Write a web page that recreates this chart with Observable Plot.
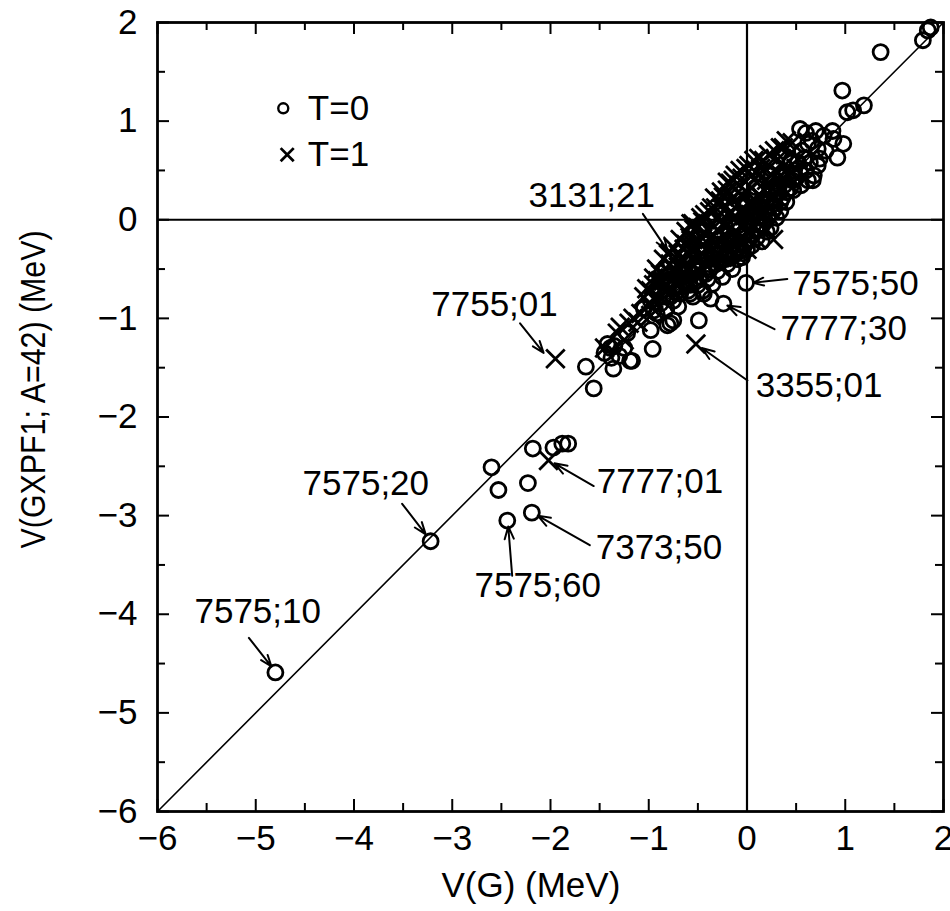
<!DOCTYPE html>
<html>
<head>
<meta charset="utf-8">
<script src="https://cdn.jsdelivr.net/npm/d3@7"></script>
<script src="https://cdn.jsdelivr.net/npm/@observablehq/plot@0.6"></script>
<style>
  html, body { margin: 0; padding: 0; background: white; }
  svg { display: block; }
</style>
</head>
<body>
<div id="chart"></div>
<script>
// ---- data ----
const xTicks = [-6, -5, -4, -3, -2, -1, 0, 1, 2];
const yTicks = [-6, -5, -4, -3, -2, -1, 0, 1, 2];
const minorTicks = [-5.5, -4.5, -3.5, -2.5, -1.5, -0.5, 0.5, 1.5];
const diagonal = [[-6, -6], [2, 2]];

// T=0 states (circles): [V(G), V(GXPF1)]
const t0Points = [
  [-4.80, -4.59], [-3.22, -3.26], [-2.44, -3.05], [-2.19, -2.97], [-2.60, -2.51], [-2.53, -2.74],
  [-2.23, -2.67], [-2.18, -2.32], [-1.97, -2.31], [-1.88, -2.27], [-1.82, -2.27],
  [-1.64, -1.49], [-1.56, -1.71], [-1.42, -1.26], [-1.36, -1.51], [-1.17, -1.43], [-0.96, -1.31],
  [-1.30, -1.38], [-1.38, -1.40], [-1.25, -1.30], [-1.45, -1.35], [-1.35, -1.28], [-1.22, -1.15],
  [-0.98, -1.12], [-0.78, -1.05], [-0.49, -1.02], [-0.24, -0.85], [-0.37, -0.80], [-0.01, -0.64],
  [-0.81, -1.07], [-0.75, -1.02], [-1.19, -1.43], [-1.39, -1.30],
  [-1.05, -0.90], [-0.95, -0.92], [-0.88, -0.85], [-0.82, -0.90], [-0.75, -0.82], [-0.70, -0.88],
  [-0.68, -0.75], [-0.60, -0.72], [-0.58, -0.75], [-0.44, -0.75], [-0.55, -0.78], [-0.50, -0.66],
  [-0.45, -0.72], [-0.40, -0.60], [-0.35, -0.65], [-0.30, -0.52], [-0.25, -0.58], [-0.20, -0.45],
  [-0.15, -0.50], [-0.10, -0.40], [-0.05, -0.38], [-0.04, -0.34], [0.00, -0.30], [0.05, -0.26],
  [0.10, -0.18], [0.15, -0.22], [0.20, -0.12], [0.24, -0.08], [0.30, 0.02], [0.34, 0.09],
  [0.40, 0.18], [0.47, 0.30], [0.55, 0.35], [0.62, 0.40], [0.68, 0.45], [0.72, 0.55],
  [-0.90, -0.70], [-0.88, -0.72], [-0.80, -0.62], [-0.78, -0.43], [-0.70, -0.58], [-0.62, -0.45],
  [-0.55, -0.55], [-0.48, -0.42], [-0.40, -0.40], [-0.35, -0.30], [-0.28, -0.35], [-0.22, -0.25],
  [-0.18, -0.32], [-0.12, -0.20], [-0.08, -0.28], [-0.02, -0.15], [0.02, -0.05], [0.08, 0.05],
  [0.12, -0.05], [0.18, 0.10], [0.22, 0.05], [0.28, 0.20], [0.32, 0.28], [0.38, 0.35],
  [0.42, 0.42], [0.48, 0.50], [0.52, 0.58], [0.58, 0.62],
  [-0.65, -0.38], [-0.45, -0.10], [-0.25, 0.05], [-0.05, 0.20], [0.09, 0.33], [0.25, 0.45],
  [0.54, 0.92], [0.62, 0.77], [0.72, 0.72], [0.87, 0.90], [0.88, 0.82], [0.98, 0.77],
  [0.92, 0.63], [0.67, 0.40],
  [0.97, 1.31], [1.02, 1.09], [1.08, 1.11], [1.19, 1.16], [1.36, 1.70], [1.79, 1.82],
  [1.84, 1.92], [1.87, 1.95],
  [-0.98, -0.82], [-0.92, -0.95], [-0.85, -0.78], [-0.76, -0.70], [-0.66, -0.68], [-0.52, -0.62],
  [-0.42, -0.55], [-0.32, -0.45], [-0.22, -0.40], [-0.12, -0.35], [-0.02, -0.25], [0.06, -0.15],
  [0.16, -0.05], [0.26, 0.08], [0.36, 0.22], [0.44, 0.32], [0.50, 0.42], [0.60, 0.50],
  [0.64, 0.58], [0.56, 0.70], [0.45, 0.60], [0.35, 0.45], [0.24, 0.30], [0.14, 0.18],
  [0.04, 0.08], [-0.08, -0.05], [-0.18, -0.15], [-0.30, -0.25], [-0.42, -0.32], [-0.52, -0.45],
  [-0.64, -0.55], [-0.74, -0.68], [0.74, 0.62], [0.80, 0.70], [0.78, 0.85], [0.70, 0.90],
  [0.66, 0.80], [0.60, 0.88],
  [-0.86, -0.62], [-0.78, -0.78], [-0.72, -0.74], [-0.64, -0.62], [-0.58, -0.66], [-0.48, -0.58],
  [-0.38, -0.50], [-0.28, -0.42], [-0.18, -0.38], [-0.08, -0.32], [0.02, -0.20], [0.10, -0.10],
  [0.18, 0.00], [0.28, 0.12], [0.34, 0.18], [0.40, 0.28], [0.46, 0.40], [0.54, 0.48],
  [-0.60, -0.50], [-0.50, -0.52], [-0.40, -0.48], [-0.30, -0.40], [-0.20, -0.35], [-0.10, -0.25],
  [0.00, -0.12], [0.10, 0.02], [0.20, 0.20], [0.30, 0.32]
];

// T=1 states (crosses): [V(G), V(GXPF1)]
const t1Points = [
  [-1.95, -1.41], [-2.02, -2.44], [-0.52, -1.26],
  [-1.32, -1.15], [-1.16, -1.00], [-0.98, -0.97], [-1.29, -1.09], [-1.11, -1.04], [-1.20, -1.05],
  [-1.08, -0.95], [-1.45, -1.30], [-1.25, -1.22],
  [-1.00, -0.85], [-0.95, -0.80], [-0.98, -0.72], [-0.91, -0.62], [-0.95, -0.59], [-0.90, -0.78],
  [-0.85, -0.62], [-0.88, -0.62], [-0.80, -0.70], [-0.78, -0.55], [-0.72, -0.65], [-0.78, -0.33],
  [-0.78, -0.45], [-0.72, -0.55], [-0.66, -0.62], [-0.62, -0.50],
  [-0.70, -0.35], [-0.65, -0.42], [-0.58, -0.50], [-0.52, -0.40], [-0.62, -0.25], [-0.55, -0.32],
  [-0.50, -0.38], [-0.42, -0.30],
  [-0.55, -0.04], [-0.54, -0.10], [-0.52, -0.20], [-0.45, -0.25], [-0.38, -0.32], [-0.32, -0.22],
  [-0.45, -0.02], [-0.40, -0.10], [-0.34, -0.16], [-0.28, -0.22], [-0.20, -0.28],
  [-0.38, 0.08], [-0.32, 0.12], [-0.30, 0.02], [-0.22, -0.06], [-0.15, -0.15], [-0.10, -0.22],
  [-0.28, 0.18], [-0.24, 0.10], [-0.18, 0.05], [-0.10, -0.02], [-0.05, -0.08], [0.02, -0.12],
  [-0.24, 0.23], [-0.20, 0.30], [-0.15, 0.22], [-0.10, 0.15], [-0.04, 0.12], [0.04, 0.05], [0.10, 0.00],
  [-0.14, 0.40], [-0.08, 0.35], [0.00, 0.28], [0.08, 0.20], [0.15, 0.12],
  [-0.01, 0.52], [0.04, 0.44], [0.10, 0.38], [0.18, 0.30], [0.25, 0.22],
  [0.12, 0.62], [0.18, 0.52], [0.24, 0.46], [0.30, 0.40],
  [0.34, 0.73], [0.30, 0.60], [0.38, 0.55], [0.45, 0.68], [0.52, 0.62],
  [0.10, -0.20], [0.27, -0.20], [0.20, -0.10], [0.00, -0.30],
  [-0.57, -0.04], [-0.47, 0.02], [-0.27, 0.19], [-0.17, 0.37], [-0.07, 0.50], [0.17, 0.60], [0.37, 0.73],
  [-0.85, -0.40], [-0.80, -0.35], [-0.75, -0.28], [-0.68, -0.20], [-0.62, -0.12], [-0.58, -0.18],
  [-0.50, -0.08], [-0.43, 0.05], [-0.36, 0.12], [-0.33, 0.22], [-0.26, 0.28], [-0.20, 0.38],
  [-0.12, 0.45], [-0.05, 0.42], [0.02, 0.55], [0.07, 0.60], [0.14, 0.52], [0.22, 0.66],
  [0.28, 0.70], [0.40, 0.80], [0.46, 0.78],
  [-0.92, -0.50], [-0.88, -0.55], [-1.02, -0.70], [-1.05, -0.78], [-0.95, -0.66],
  [-0.60, -0.60], [-0.48, -0.52], [-0.35, -0.42], [-0.25, -0.38], [-0.15, -0.30], [-0.05, -0.20],
  [0.06, -0.08], [0.14, 0.02], [0.22, 0.12], [0.28, 0.25], [0.35, 0.32], [0.42, 0.45], [0.50, 0.52],
  [-0.70, -0.48], [-0.56, -0.28], [-0.46, -0.18], [-0.36, -0.05], [-0.26, 0.00], [-0.16, 0.08],
  [-0.06, 0.25], [0.05, 0.32], [0.12, 0.45], [0.20, 0.40],
  [-0.82, -0.58], [-0.74, -0.50], [-0.66, -0.40], [-0.60, -0.35], [-0.54, -0.26], [-0.48, -0.22],
  [-0.42, -0.14], [-0.38, -0.20], [-0.30, -0.10], [-0.24, -0.04], [-0.18, -0.10], [-0.12, 0.02],
  [-0.08, 0.08], [-0.02, 0.04], [0.02, 0.15], [0.08, 0.10], [0.12, 0.25], [0.16, 0.22],
  [0.22, 0.35], [0.26, 0.32], [0.32, 0.48], [0.36, 0.42], [-0.96, -0.90], [-0.86, -0.70],
  [-0.70, -0.62], [-0.64, -0.30], [-0.44, -0.44], [-0.32, -0.36], [-0.22, -0.18], [-0.12, -0.12],
  [0.00, -0.02], [0.06, 0.15]
];

// annotations: label text and where it sits
const labelTexts   = ["3131;21", "7755;01", "7575;50", "7777;30", "3355;01", "7777;01", "7373;50", "7575;60", "7575;20", "7575;10"];
const labelX       = [-1.58, -2.57, 0.46, 0.34, 0.09, -1.53, -1.54, -2.13, -3.88, -4.98];
const labelY       = [0.24, -0.86, -0.65, -1.11, -1.68, -2.66, -3.33, -3.71, -2.68, -3.98];
const labelAnchors = ["middle", "middle", "start", "start", "start", "start", "start", "middle", "middle", "middle"];
// pointer lines: from (x1,y1) to the state at (x2,y2)
const arrowX1 = [-1.06, -2.31, 0.41, 0.28, 0.005, -1.56, -1.60, -2.39, -3.51, -5.07];
const arrowY1 = [0.06, -1.05, -0.60, -1.11, -1.63, -2.70, -3.30, -3.61, -2.88, -4.24];
const arrowX2 = [-0.81, -2.07, 0.06, -0.20, -0.46, -1.96, -2.13, -2.43, -3.27, -4.84];
const arrowY2 = [-0.31, -1.35, -0.64, -0.87, -1.30, -2.47, -3.00, -3.11, -3.19, -4.53];

const legendItems = ["T=0", "T=1"];
const xTitle = "V(G) (MeV)";
const yTitle = "V(GXPF1; A=42) (MeV)";

// ---- build ----
const t0 = t0Points.map(([x, y]) => ({x, y}));
const t1 = t1Points.map(([x, y]) => ({x, y}));
const labels = labelTexts.map((text, i) => ({text, x: labelX[i], y: labelY[i], anchor: labelAnchors[i]}));
const arrows = arrowX1.map((x1, i) => ({x1, y1: arrowY1[i], x2: arrowX2[i], y2: arrowY2[i]}));
const diag = diagonal.map(([x, y]) => ({x, y}));

const W = 950, H = 911;
const mL = 157, mR = 7, mT = 22, mB = 100;
const innerH = H - mT - mB, innerW = W - mL - mR;
const major = 12, minor = 8;
const font = "'Liberation Sans', Arial, Helvetica, sans-serif";

const chart = Plot.plot({
  width: W, height: H,
  marginLeft: mL, marginRight: mR, marginTop: mT, marginBottom: mB,
  x: {domain: [-6, 2]},
  y: {domain: [-6, 2]},
  style: {fontFamily: font, fontSize: "35px", background: "white", color: "black", overflow: "visible"},
  marks: [
    Plot.ruleX([0], {stroke: "black", strokeWidth: 2.2}),
    Plot.ruleY([0], {stroke: "black", strokeWidth: 2.2}),
    Plot.line(diag, {x: "x", y: "y", stroke: "black", strokeWidth: 1.6}),
    // inward ticks
    Plot.tickX(xTicks, {x: d => d, insetTop: innerH - major, stroke: "black", strokeWidth: 2}),
    Plot.tickX(xTicks, {x: d => d, insetBottom: innerH - major, stroke: "black", strokeWidth: 2}),
    Plot.tickX(minorTicks, {x: d => d, insetTop: innerH - minor, stroke: "black", strokeWidth: 2}),
    Plot.tickX(minorTicks, {x: d => d, insetBottom: innerH - minor, stroke: "black", strokeWidth: 2}),
    Plot.tickY(yTicks, {y: d => d, insetRight: innerW - major, stroke: "black", strokeWidth: 2}),
    Plot.tickY(yTicks, {y: d => d, insetLeft: innerW - major, stroke: "black", strokeWidth: 2}),
    Plot.tickY(minorTicks, {y: d => d, insetRight: innerW - minor, stroke: "black", strokeWidth: 2}),
    Plot.tickY(minorTicks, {y: d => d, insetLeft: innerW - minor, stroke: "black", strokeWidth: 2}),
    Plot.axisX({ticks: xTicks, tickSize: 0, tickPadding: 14, fontSize: 35}),
    Plot.axisY({ticks: yTicks, tickSize: 0, tickPadding: 20, fontSize: 35}),
    Plot.frame({stroke: "black", strokeWidth: 2.8}),
    // data
    Plot.dot(t0, {x: "x", y: "y", r: 7.5, stroke: "black", strokeWidth: 2.8, fill: "none"}),
    Plot.dot(t1, {x: "x", y: "y", symbol: "times", r: 8.5, stroke: "black", strokeWidth: 2.8, fill: "none"}),
    // annotations
    Plot.arrow(arrows, {x1: "x1", y1: "y1", x2: "x2", y2: "y2", stroke: "black", strokeWidth: 2, headLength: 10, headAngle: 40}),
    Plot.text(labels.filter(d => d.anchor === "middle"), {x: "x", y: "y", text: "text", textAnchor: "middle", fontSize: 35, fill: "black"}),
    Plot.text(labels.filter(d => d.anchor === "start"), {x: "x", y: "y", text: "text", textAnchor: "start", fontSize: 35, fill: "black"}),
    // legend
    Plot.dot([legendItems[0]], {x: -4.72, y: 1.13, r: 5, stroke: "black", strokeWidth: 2.4, fill: "none"}),
    Plot.dot([legendItems[1]], {x: -4.68, y: 0.66, symbol: "times", r: 6, stroke: "black", strokeWidth: 2.8, fill: "none"}),
    Plot.text(legendItems, {x: -4.47, y: [1.13, 0.66], text: d => d, textAnchor: "start", fontSize: 35, fill: "black"}),
    // axis titles (placed in the margins through the scales)
    Plot.text([xTitle], {x: -2.2, y: -6.75, text: d => d, fontSize: 35, fill: "black", className: "xtitle"}),
    Plot.text([yTitle], {x: -7.26, y: -1.72, text: d => d, rotate: -90, fontSize: 35, fill: "black", className: "ytitle"})
  ]
});
// the reference draws the y title in a condensed face: squeeze it to its measured length
d3.select(chart).selectAll(".ytitle text").attr("textLength", 318).attr("lengthAdjust", "spacingAndGlyphs");
document.getElementById("chart").appendChild(chart);
</script>
</body>
</html>
